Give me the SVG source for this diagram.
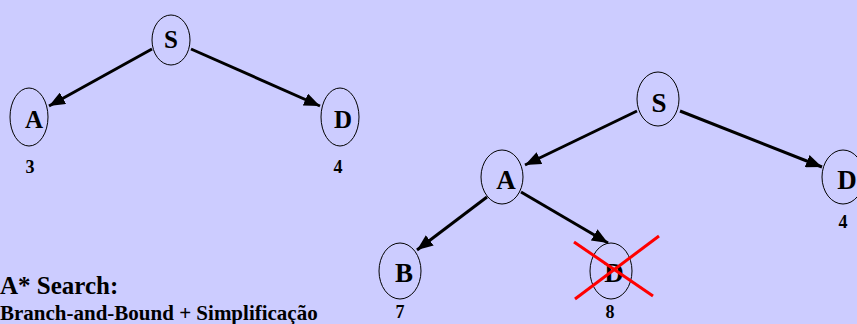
<svg xmlns="http://www.w3.org/2000/svg" width="857" height="324" viewBox="0 0 857 324">
  <style>
    .node { fill: #ccccff; stroke: #000; stroke-width: 1; }
    .lbl { font-family: "Liberation Serif", "Times New Roman", serif; font-weight: bold; fill: #000; text-anchor: middle; }
    .big { font-size: 25px; }
    .bigr { font-size: 27px; }
    .cost { font-size: 18px; }
    .edge { stroke: #000; stroke-width: 3; fill: none; marker-end: url(#arrow); }
    .cross { stroke: #ff0000; stroke-width: 3; }
    .title { font-family: "Liberation Serif", "Times New Roman", serif; font-weight: bold; fill: #000; }
  </style>
  <defs>
    <marker id="arrow" markerUnits="userSpaceOnUse" markerWidth="17" markerHeight="13" refX="16" refY="6.5" orient="auto">
      <path d="M0,0 L16,6.5 L0,13 Z" fill="#000"/>
    </marker>
  </defs>

  <rect x="0" y="0" width="857" height="324" fill="#ccccff"/>

  <!-- connectors -->
  <g id="connectors">
    <line class="edge" x1="152" y1="49" x2="49" y2="106"/>
    <line class="edge" x1="191" y1="49" x2="320" y2="106"/>
    <line class="edge" x1="637" y1="111" x2="525" y2="165"/>
    <line class="edge" x1="680" y1="111" x2="822" y2="167"/>
    <line class="edge" x1="487" y1="197" x2="417" y2="250"/>
    <line class="edge" x1="521" y1="192" x2="608" y2="243"/>
  </g>

  <!-- first expansion -->
  <g id="s1">
    <ellipse class="node" cx="171" cy="40" rx="19" ry="25"/>
    <text class="lbl big" x="171" y="48">S</text>
  </g>
  <g id="a1">
    <ellipse class="node" cx="29" cy="117" rx="19" ry="29"/>
    <text class="lbl big" x="34" y="128">A</text>
    <text class="lbl cost" x="30" y="173">3</text>
  </g>
  <g id="d1">
    <ellipse class="node" cx="340" cy="117" rx="19" ry="29"/>
    <text class="lbl big" x="343" y="128">D</text>
    <text class="lbl cost" x="338" y="173">4</text>
  </g>

  <!-- second expansion -->
  <g id="s2">
    <ellipse class="node" cx="658" cy="99" rx="21" ry="27"/>
    <text class="lbl bigr" x="659" y="112">S</text>
  </g>
  <g id="a2">
    <ellipse class="node" cx="502" cy="177" rx="21" ry="27"/>
    <text class="lbl bigr" x="506" y="189">A</text>
  </g>
  <g id="d2">
    <ellipse class="node" cx="843" cy="177" rx="21" ry="27"/>
    <text class="lbl bigr" x="847" y="189">D</text>
    <text class="lbl cost" x="843" y="228">4</text>
  </g>
  <g id="b2">
    <ellipse class="node" cx="400" cy="271" rx="21" ry="28"/>
    <text class="lbl bigr" x="404" y="282">B</text>
    <text class="lbl cost" x="400" y="318">7</text>
  </g>
  <g id="d3">
    <ellipse class="node" cx="611" cy="271" rx="21" ry="28"/>
    <text class="lbl bigr" x="614" y="282">D</text>
    <text class="lbl cost" x="610" y="318">8</text>
    <line class="cross" x1="574" y1="242" x2="653" y2="296"/>
    <line class="cross" x1="575" y1="299" x2="659" y2="236"/>
  </g>

  <!-- caption -->
  <g id="caption">
    <text class="title" x="0" y="294" font-size="25">A* Search:</text>
    <text class="title" x="0" y="320" font-size="21">Branch-and-Bound + Simplificação</text>
  </g>
</svg>
